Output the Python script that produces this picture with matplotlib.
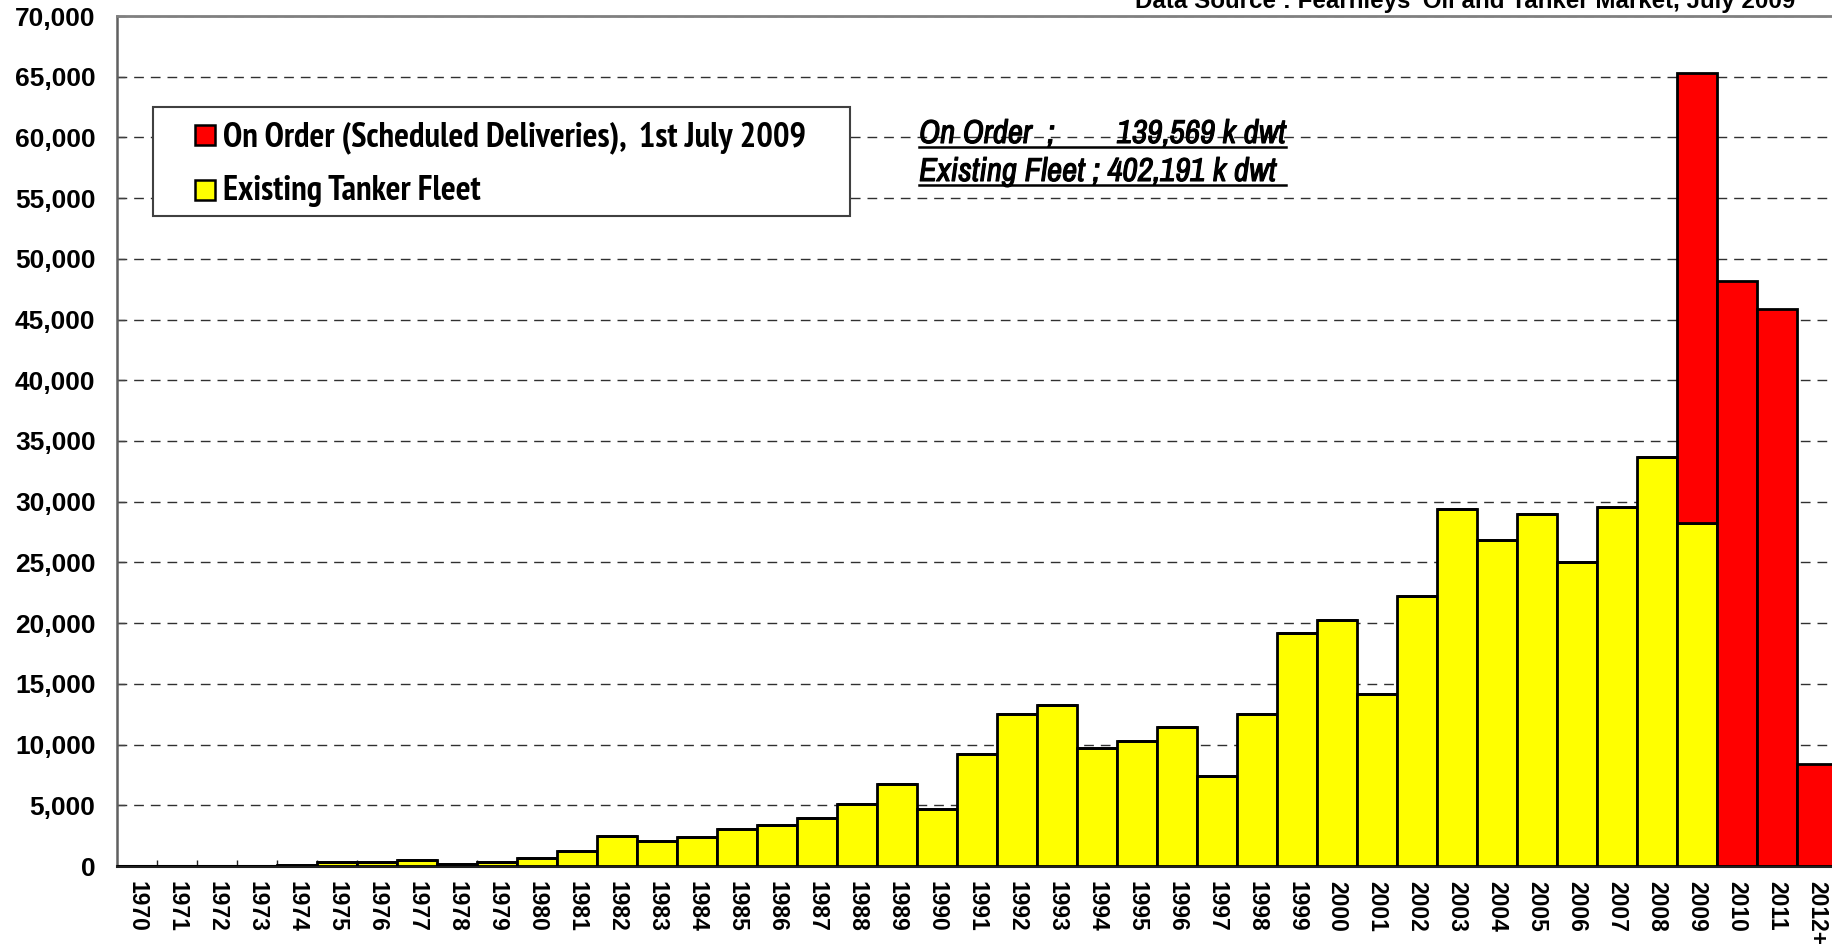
import os
import matplotlib
matplotlib.use("Agg")
import matplotlib.pyplot as plt
from matplotlib.patches import Rectangle
from matplotlib.lines import Line2D
from matplotlib import font_manager
from matplotlib.font_manager import FontProperties
import matplotlib.patheffects as pe
from matplotlib.ticker import FuncFormatter, MultipleLocator
import numpy as np

# ---------------- data ----------------
years = ["1970", "1971", "1972", "1973", "1974", "1975", "1976", "1977", "1978", "1979",
         "1980", "1981", "1982", "1983", "1984", "1985", "1986", "1987", "1988", "1989",
         "1990", "1991", "1992", "1993", "1994", "1995", "1996", "1997", "1998", "1999",
         "2000", "2001", "2002", "2003", "2004", "2005", "2006", "2007", "2008", "2009",
         "2010", "2011", "2012+"]
existing = [0, 0, 0, 0, 50, 350, 300, 480, 200, 350,
            650, 1250, 2500, 2020, 2360, 3080, 3370, 3950, 5100, 6740,
            4720, 9240, 12520, 13290, 9720, 10300, 11460, 7410, 12520, 19160,
            20220, 14150, 22240, 29370, 26860, 28980, 25030, 29560, 33700, 28210,
            0, 0, 0]
on_order = [0] * 39 + [37100, 48200, 45900, 8370]

legend_labels = ["On Order (Scheduled Deliveries),  1st July 2009", "Existing Tanker Fleet"]
title_text = "Data Source : Fearnleys' Oil and Tanker Market, July 2009"
note_line1_left = "On Order  ;"
note_line1_right = "139,569 k dwt"
note_line2 = "Existing Fleet ; 402,191 k dwt"

# ---------------- fonts ----------------
WIDE = ["Liberation Sans", "DejaVu Sans"]
plt.rcParams["font.family"] = WIDE

entries = [f for f in font_manager.fontManager.ttflist if "Narrow" in f.name]

def is_bold(f):
    b = os.path.basename(f.fname).lower()
    return "bold" in b or f.weight in (700, "bold")

def is_italic(f):
    b = os.path.basename(f.fname).lower()
    return "italic" in b or f.style in ("italic", "oblique")

def pick(bold, italic):
    for f in entries:
        if is_bold(f) == bold and is_italic(f) == italic:
            return f.fname
    return None

LEG_SIZE = 25
NOTE_SIZE = 23.8
stroke = []
note_stroke = []
f_b = pick(True, False)
f_bi = pick(True, True)
f_r = pick(False, False)
f_i = pick(False, True)
if f_b:
    leg_fp = FontProperties(fname=f_b, size=LEG_SIZE)
elif f_r:
    leg_fp = FontProperties(fname=f_r, size=LEG_SIZE)
    stroke = [pe.withStroke(linewidth=1.3, foreground="black")]
else:
    leg_fp = FontProperties(family=WIDE, weight="bold", size=LEG_SIZE * 0.77)
if f_bi:
    note_fp = FontProperties(fname=f_bi, size=NOTE_SIZE)
elif f_i:
    note_fp = FontProperties(fname=f_i, size=NOTE_SIZE)
    note_stroke = [pe.withStroke(linewidth=0.8, foreground="black")]
else:
    note_fp = FontProperties(family=WIDE, weight="bold", style="italic", size=NOTE_SIZE * 0.77)

W, H = 1832, 944
fig = plt.figure(figsize=(W / 100, H / 100), dpi=100)

def fx(px):
    return px / W

def fy(py):
    return 1 - py / H

ax_left, ax_bottom_px, ax_top_px = 117, 866, 16
ax = fig.add_axes([fx(ax_left), fy(ax_bottom_px), 1 - fx(ax_left), (ax_bottom_px - ax_top_px) / H])

x = np.arange(len(years))
ax.bar(x, existing, width=1.0, color="#FFFF00", edgecolor="black", linewidth=2.0, zorder=3)
ax.bar(x, on_order, width=1.0, bottom=existing, color="#FF0000", edgecolor="black",
       linewidth=2.0, zorder=3)

slot_px = 40.0
ax.set_xlim(-0.5, -0.5 + (W - ax_left) / slot_px)
ax.set_ylim(0, 70000)

ax.yaxis.set_major_locator(MultipleLocator(5000))
ax.yaxis.set_major_formatter(FuncFormatter(lambda v, p: f"{int(v):,}"))
ax.grid(axis="y", color="#303030", linewidth=1.0, linestyle=(0, (7, 5)), zorder=1)
ax.set_axisbelow(True)

ax.set_xticks(x)
ax.set_xticklabels(years, rotation=-90, fontsize=16.5, fontweight="bold", family=WIDE)
ax.set_xticks(np.arange(0.5, len(years) - 1, 1.0), minor=True)
ax.tick_params(axis="x", which="major", length=0, pad=11)
ax.tick_params(axis="x", which="minor", direction="in", length=4.5, width=1.0, color="#202020")
ax.tick_params(axis="y", direction="in", length=6, width=1.0, color="#404040", pad=15.5,
               labelsize=19)
for lab in ax.get_yticklabels():
    lab.set_fontweight("bold")
for lab in ax.get_xticklabels():
    lab.set_va("top")
    lab.set_ha("center")

ax.spines["right"].set_visible(False)
ax.spines["top"].set_color("#808080")
ax.spines["top"].set_linewidth(2.0)
ax.spines["left"].set_color("#606060")
ax.spines["left"].set_linewidth(1.8)
ax.spines["bottom"].set_color("#202020")
ax.spines["bottom"].set_linewidth(2.2)
ax.spines["top"].set_zorder(5)

# ---------------- title (partly clipped at top, as in the reference) ----------------
fig.text(fx(1795), fy(8), title_text, ha="right", va="baseline", fontsize=17.4,
         fontweight="bold", family=WIDE)

# ---------------- legend (manual box) ----------------
fig.add_artist(Rectangle((fx(153), fy(216)), fx(850) - fx(153), (216 - 107) / H,
                         transform=fig.transFigure, facecolor="white", edgecolor="#404040",
                         linewidth=1.5, zorder=6))
colors = ["#FF0000", "#FFFF00"]
row_centers = [135, 190]
row_baselines = [146, 200]
for lab, col, yc, yb in zip(legend_labels, colors, row_centers, row_baselines):
    fig.add_artist(Rectangle((fx(195), fy(yc + 10)), 20 / W, 20 / H, transform=fig.transFigure,
                             facecolor=col, edgecolor="black", linewidth=1.8, zorder=7))
    fig.text(fx(223), fy(yb), lab, ha="left", va="baseline", fontproperties=leg_fp,
             zorder=7, path_effects=stroke)

# ---------------- note (bold italic underlined) ----------------
note_kw = dict(fontproperties=note_fp, zorder=7, path_effects=note_stroke)
fig.text(fx(919), fy(143), note_line1_left, ha="left", va="baseline", **note_kw)
fig.text(fx(1286), fy(143), note_line1_right, ha="right", va="baseline", **note_kw)
fig.text(fx(919), fy(181), note_line2, ha="left", va="baseline", **note_kw)
for uy in (146.5, 185):
    fig.add_artist(Line2D([fx(919), fx(1286)], [fy(uy), fy(uy)], transform=fig.transFigure,
                          color="black", linewidth=1.8, zorder=7))

fig.savefig("out.png", dpi=100)
